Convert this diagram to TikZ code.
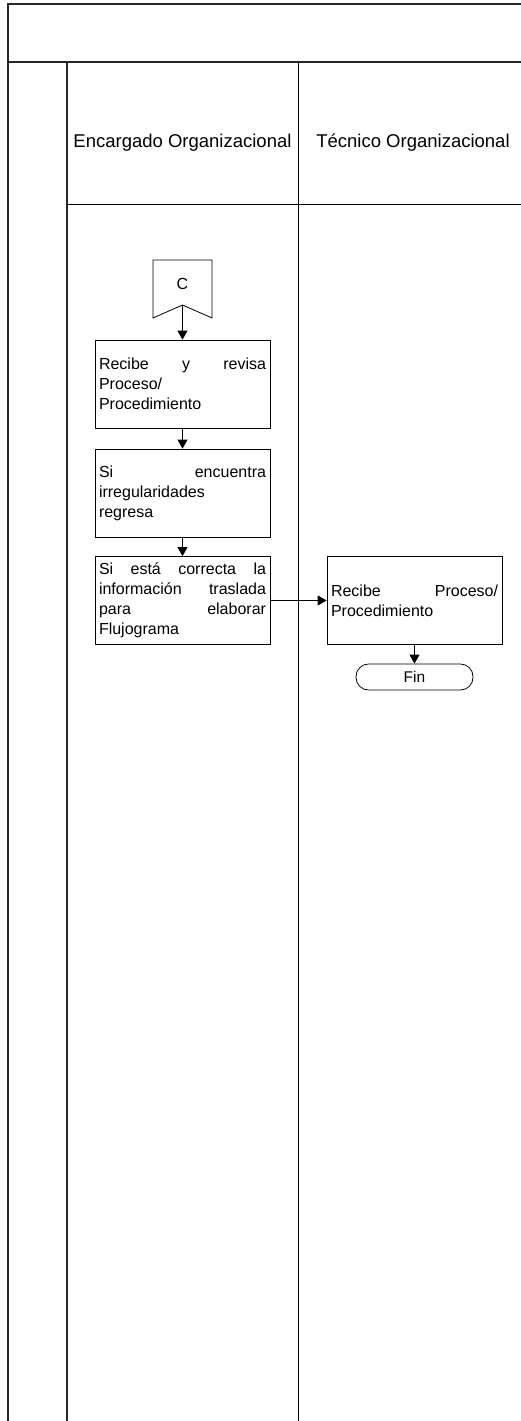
\documentclass[tikz,border=0pt]{standalone}
\usepackage{fontspec}
\setmainfont{Liberation Sans}
\usetikzlibrary{arrows.meta}

\begin{document}
\begin{tikzpicture}[x=1pt,y=-1pt,line width=0.8pt,
  every node/.style={font=\fontsize{16}{20}\selectfont},
  proc/.style={draw,text width=167pt,inner xsep=4pt,inner ysep=0pt,minimum height=88pt,align=justify},
  lanehead/.style={font=\fontsize{18.5}{22}\selectfont},
  arr/.style={-{Triangle[length=9pt,width=10pt]}},
  laneline/.style={line width=1.3pt,black!85}]
\useasboundingbox (0,0) rectangle (520,1421);
% swimlane frame
\draw[laneline] (8,1421) -- (8,4) -- (525,4);
\draw[laneline] (8,62) -- (525,62);
\draw[laneline] (67,62) -- (67,1421);
\draw (298,62) -- (298,1421);
\draw (67,204) -- (525,204);
\node[lanehead] (hEnc) at (182.5,143) {Encargado Organizacional};
\node[lanehead] (hTec) at (413,143) {Técnico Organizacional};
% off-page connector
\draw (153,260) -- (212,260) -- (212,318) -- (182.5,305) -- (153,318) -- cycle;
\node[font=\fontsize{16}{18}\selectfont] (conC) at (182.5,284) {C};
\coordinate (conCtip) at (182.5,305);
% process boxes
\node[proc] (rev) at (182.5,384) {Recibe y revisa\linebreak Proceso/\\Procedimiento};
\node[proc] (irr) at (182.5,493) {Si encuentra\linebreak irregularidades\\regresa};
\node[proc] (tras) at (182.5,600.5) {Si está correcta la\linebreak información traslada\linebreak para elaborar\linebreak Flujograma};
\node[proc] (recibe) at (414.5,600.5) {Recibe Proceso/\linebreak Procedimiento};
\node[draw,rounded corners=12.5pt,minimum width=117pt,minimum height=26pt,inner sep=0pt,font=\fontsize{15.5}{17}\selectfont] (fin) at (414.5,677) {Fin};
\draw[arr] (conCtip) -- (rev);
\draw[arr] (rev) -- (irr);
\draw[arr] (irr) -- (tras);
\draw[arr] (tras) -- (recibe);
\draw[arr] (recibe) -- (fin);
\end{tikzpicture}
\end{document}
